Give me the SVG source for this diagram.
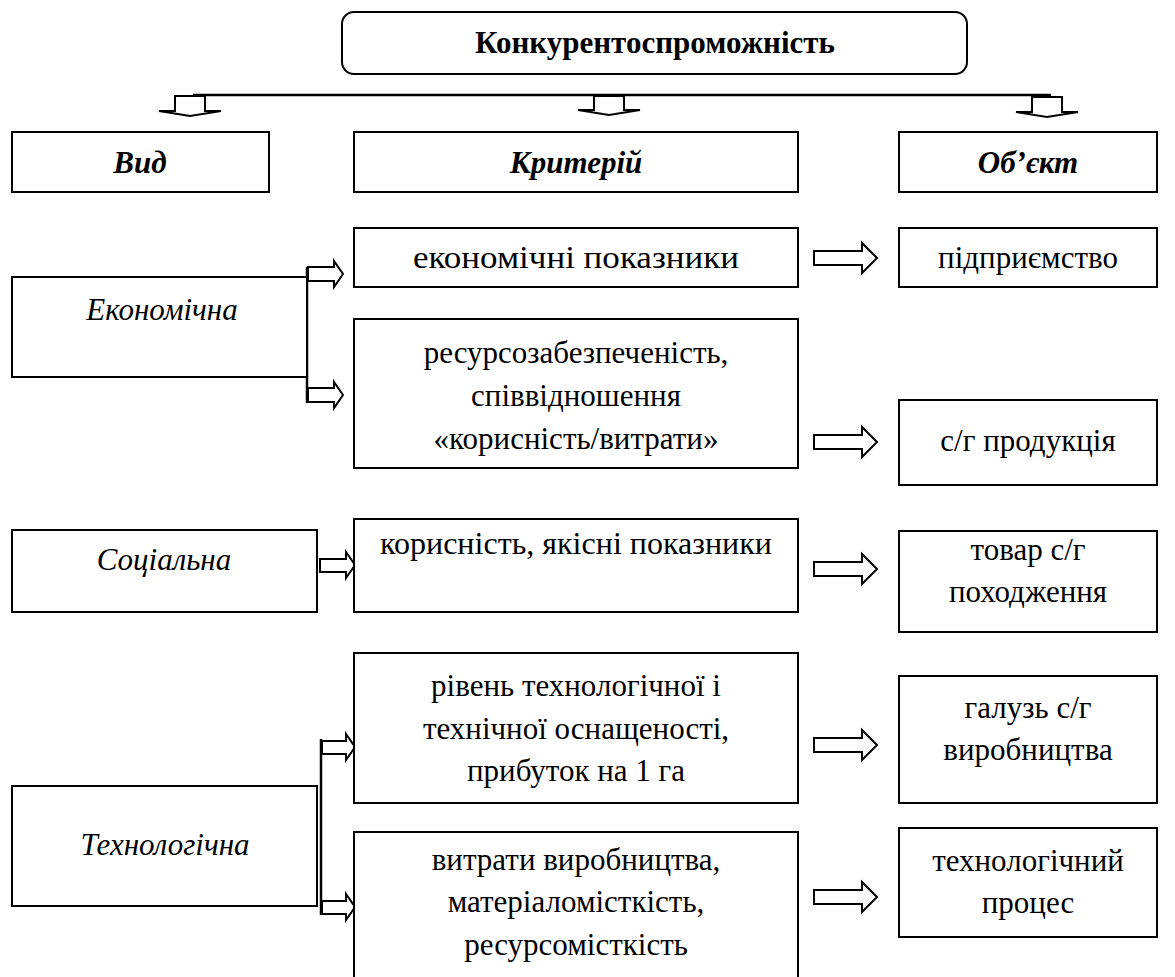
<svg xmlns="http://www.w3.org/2000/svg" width="1175" height="977" viewBox="0 0 1175 977">
<style>
.box{fill:#fff;stroke:#000;stroke-width:2}
.ar{fill:#fff;stroke:#000;stroke-width:2;stroke-linejoin:miter}
.ln{fill:none;stroke:#000;stroke-width:2.5}
text{font-family:"Liberation Serif","Times New Roman",serif;font-size:31px;fill:#000;text-anchor:middle}
.b{font-weight:bold}
.bi{font-weight:bold;font-style:italic}
.i{font-style:italic}
</style>
<rect width="1175" height="977" fill="#fff"/>
<g id="connectors">
<line class="ln" x1="193" y1="95" x2="1051" y2="95"/>
<polygon class="ar" points="175,96 205,96 205,111 221,111 190,116 159,111 175,111"/>
<polygon class="ar" points="594,96 624,96 624,110 640,110 609,115 578,110 594,110"/>
<polygon class="ar" points="1032,97 1062,97 1062,112 1078,112 1047,117 1016,112 1032,112"/>
<line class="ln" x1="307" y1="267" x2="307" y2="403"/>
<polygon class="ar" points="308,267 334,267 334,261 343,274 334,287 334,281 308,281"/>
<polygon class="ar" points="308,388 334,388 334,382 343,395 334,408 334,402 308,402"/>
<polygon class="ar" points="320,559 346,559 346,552 355,565 346,578 346,572 320,572"/>
<line class="ln" x1="321" y1="739" x2="321" y2="915"/>
<polygon class="ar" points="322,741 346,741 346,734 355,747 346,760 346,754 322,754"/>
<polygon class="ar" points="322,901 346,901 346,894 355,907 346,920 346,914 322,914"/>
<polygon class="ar" points="814,251 862,251 862,243 877,258 862,273 862,265 814,265"/>
<polygon class="ar" points="814,435 862,435 862,427 877,442 862,457 862,449 814,449"/>
<polygon class="ar" points="814,562 862,562 862,554 877,569 862,584 862,576 814,576"/>
<polygon class="ar" points="814,738 862,738 862,730 877,745 862,760 862,752 814,752"/>
<polygon class="ar" points="814,890 862,890 862,882 877,897 862,912 862,904 814,904"/>
</g>
<g id="title"><rect class="box" x="342" y="12" width="625" height="62" rx="12"/><text class="b" x="655" y="53">Конкурентоспроможність</text></g>
<g id="h-vid"><rect class="box" x="12" y="132" width="257" height="60"/><text class="bi" x="140" y="173">Вид</text></g>
<g id="h-kryt"><rect class="box" x="354" y="132" width="444" height="60"/><text class="bi" x="576" y="173">Критерій</text></g>
<g id="h-obj"><rect class="box" x="899" y="132" width="258" height="60"/><text class="bi" x="1028" y="173">Об’єкт</text></g>
<g id="ekon"><rect class="box" x="12" y="277" width="295" height="100"/><text class="i" x="162" y="320">Економічна</text></g>
<g id="k1"><rect class="box" x="354" y="228" width="444" height="59"/><text x="576" y="268" textLength="326" lengthAdjust="spacingAndGlyphs">економічні показники</text></g>
<g id="o1"><rect class="box" x="899" y="228" width="258" height="59"/><text x="1028" y="268">підприємство</text></g>
<g id="k2"><rect class="box" x="354" y="319" width="444" height="149"/><text x="576" y="363">ресурсозабезпеченість,</text><text x="576" y="406">співвідношення</text><text x="576" y="449">«корисність/витрати»</text></g>
<g id="o2"><rect class="box" x="899" y="400" width="258" height="85"/><text x="1028" y="451">с/г продукція</text></g>
<g id="soc"><rect class="box" x="12" y="530" width="305" height="82"/><text class="i" x="164" y="570">Соціальна</text></g>
<g id="k3"><rect class="box" x="354" y="519" width="444" height="93"/><text x="576" y="554" textLength="392" lengthAdjust="spacingAndGlyphs">корисність, якісні показники</text></g>
<g id="o3"><rect class="box" x="899" y="531" width="258" height="101"/><text x="1028" y="560">товар с/г</text><text x="1028" y="602">походження</text></g>
<g id="k4"><rect class="box" x="354" y="653" width="444" height="150"/><text x="576" y="696">рівень технологічної і</text><text x="576" y="739">технічної оснащеності,</text><text x="576" y="781">прибуток на 1 га</text></g>
<g id="o4"><rect class="box" x="899" y="676" width="258" height="127"/><text x="1028" y="718">галузь с/г</text><text x="1028" y="760">виробництва</text></g>
<g id="tech"><rect class="box" x="12" y="786" width="305" height="120"/><text class="i" x="165" y="855">Технологічна</text></g>
<g id="k5"><rect class="box" x="354" y="832" width="444" height="150"/><text x="576" y="870">витрати виробництва,</text><text x="576" y="912">матеріаломісткість,</text><text x="576" y="955">ресурсомісткість</text></g>
<g id="o5"><rect class="box" x="899" y="828" width="258" height="109"/><text x="1028" y="871">технологічний</text><text x="1028" y="913">процес</text></g>
</svg>
